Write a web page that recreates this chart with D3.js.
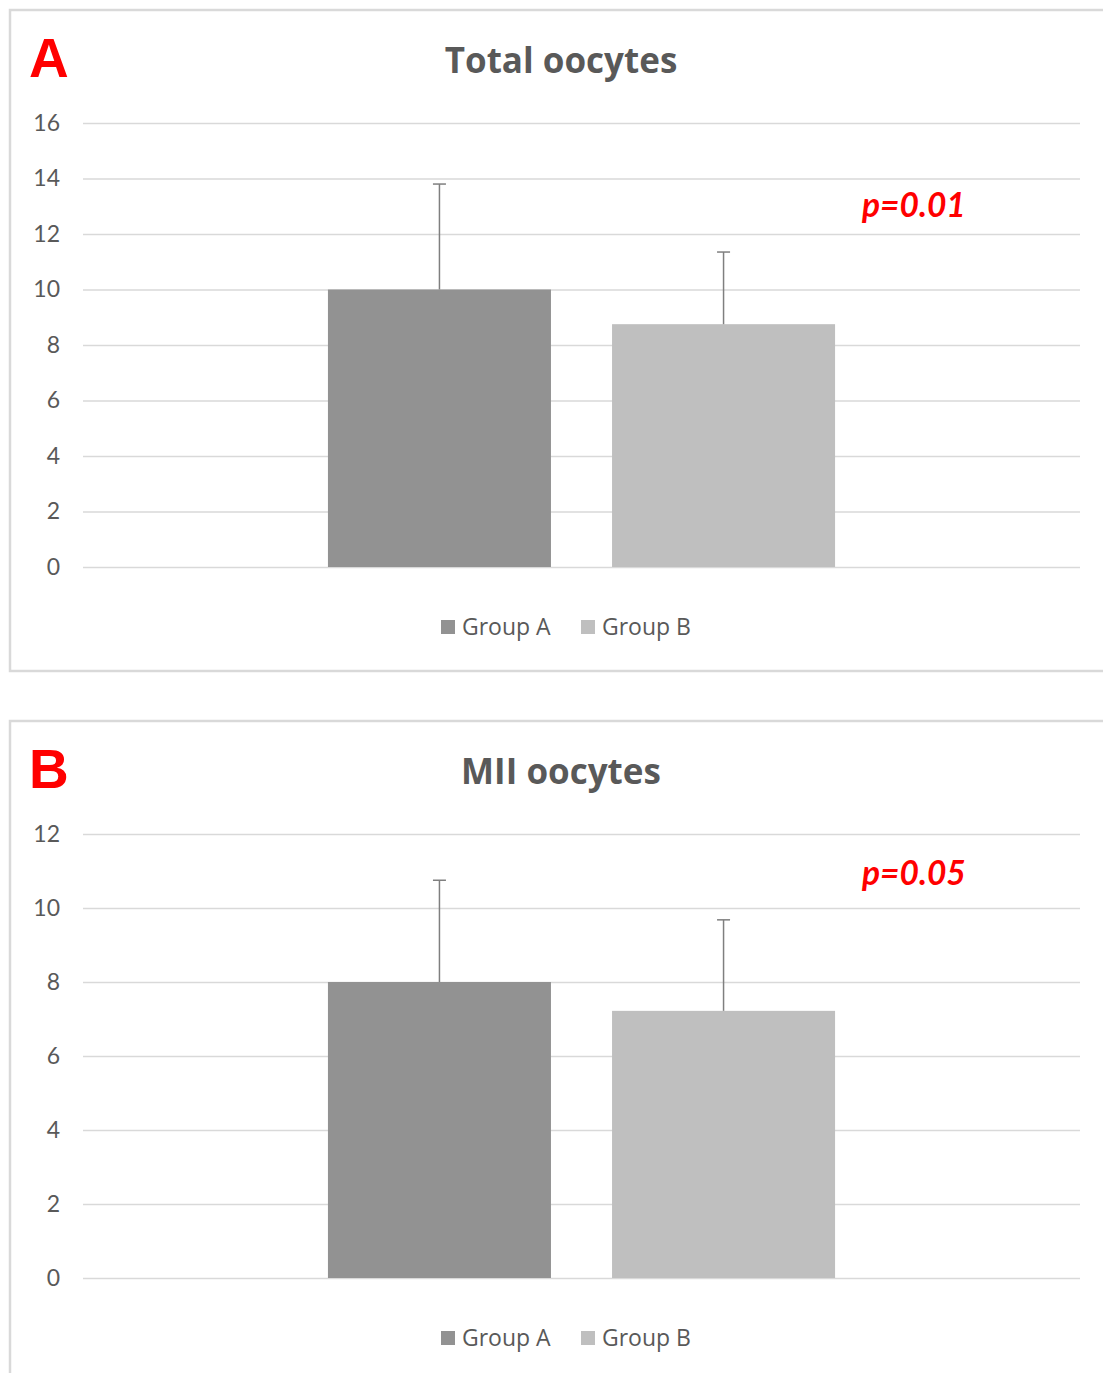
<!DOCTYPE html>
<html>
<head>
<meta charset="utf-8">
<script src="https://cdn.jsdelivr.net/npm/d3@7"></script>
<style>
  body { margin: 0; background: #fff; }
  text { font-family: "Open Sans", Lato, sans-serif; }
</style>
</head>
<body>
<div id="chart"></div>
<script>
// data
var categories = ["Oocytes"];
var groups = ["Group A", "Group B"];
var groupColours = ["#929292", "#bfbfbf"];

var totalMeans = [10.0, 8.75];
var totalErrors = [3.8, 2.6];
var totalTicks = [0, 2, 4, 6, 8, 10, 12, 14, 16];

var miiMeans = [8.0, 7.22];
var miiErrors = [2.75, 2.46];
var miiTicks = [0, 2, 4, 6, 8, 10, 12];

var panels = [
  {letter: "A", title: "Total oocytes", means: totalMeans, errors: totalErrors, ticks: totalTicks, pval: "p=0.01", top: 10, pY: 207},
  {letter: "B", title: "MII oocytes", means: miiMeans, errors: miiErrors, ticks: miiTicks, pval: "p=0.05", top: 721, pY: 164}
];

var svgWidth = 1103, svgHeight = 1373;
var svg = d3.select("#chart").append("svg")
  .attr("width", svgWidth).attr("height", svgHeight);

function drawPanel(p) {
  var g = svg.append("g").attr("transform", "translate(0," + p.top + ")");

  // outer frame (runs off the right / bottom edge like the original)
  g.append("rect")
    .attr("x", 10).attr("y", 0)
    .attr("width", 1110).attr("height", 661)
    .attr("fill", "none")
    .attr("stroke", "#d9d9d9")
    .attr("stroke-width", 2.5);

  var plotLeft = 83, plotRight = 1080, plotTop = 113, plotBottom = 557;

  var y = d3.scaleLinear()
    .domain([0, d3.max(p.ticks)])
    .range([plotBottom, plotTop]);

  var x0 = d3.scaleBand().domain(categories)
    .range([plotLeft, plotRight])
    .paddingInner(0).paddingOuter(0.483);
  var x1 = d3.scaleBand().domain(groups)
    .range([0, x0.bandwidth()])
    .paddingInner(0.215);

  // gridlines + tick labels
  var yAxis = d3.axisLeft(y).tickValues(p.ticks)
    .tickSize(-(plotRight - plotLeft)).tickPadding(23);
  var ax = g.append("g")
    .attr("transform", "translate(" + plotLeft + ",0)")
    .call(yAxis);
  ax.select(".domain").remove();
  ax.selectAll(".tick line").attr("stroke", "#d9d9d9").attr("stroke-width", 1.3);
  ax.selectAll(".tick text")
    .attr("fill", "#595959")
    .style("font-size", "23px")
    .style("font-family", "Lato, sans-serif");

  // bars
  var rows = groups.map(function(gr, i) {
    return {group: gr, mean: p.means[i], err: p.errors[i], colour: groupColours[i]};
  });
  var cat = g.append("g").attr("transform", "translate(" + x0(categories[0]) + ",0)");
  cat.selectAll("rect.bar").data(rows).enter().append("rect")
    .attr("class", "bar")
    .attr("x", function(d) { return x1(d.group); })
    .attr("y", function(d) { return y(d.mean); })
    .attr("width", x1.bandwidth())
    .attr("height", function(d) { return y(0) - y(d.mean); })
    .attr("fill", function(d) { return d.colour; });

  // error bars (upper only)
  var capW = 13;
  cat.selectAll("line.err").data(rows).enter().append("line")
    .attr("class", "err")
    .attr("x1", function(d) { return x1(d.group) + x1.bandwidth() / 2; })
    .attr("x2", function(d) { return x1(d.group) + x1.bandwidth() / 2; })
    .attr("y1", function(d) { return y(d.mean); })
    .attr("y2", function(d) { return y(d.mean + d.err); })
    .attr("stroke", "#7f7f7f").attr("stroke-width", 1.5);
  cat.selectAll("line.cap").data(rows).enter().append("line")
    .attr("class", "cap")
    .attr("x1", function(d) { return x1(d.group) + x1.bandwidth() / 2 - capW / 2; })
    .attr("x2", function(d) { return x1(d.group) + x1.bandwidth() / 2 + capW / 2; })
    .attr("y1", function(d) { return y(d.mean + d.err); })
    .attr("y2", function(d) { return y(d.mean + d.err); })
    .attr("stroke", "#7f7f7f").attr("stroke-width", 1.5);

  // title
  g.append("text")
    .attr("x", 561).attr("y", 63)
    .attr("text-anchor", "middle")
    .attr("fill", "#595959")
    .attr("font-weight", 700)
    .style("font-size", "35px")
    .text(p.title);

  // panel letter
  g.append("text")
    .attr("x", 29).attr("y", 67)
    .attr("fill", "#ff0000")
    .attr("font-weight", 700)
    .style("font-family", "'Liberation Sans', Arial, sans-serif")
    .style("font-size", "55px")
    .text(p.letter);

  // p value
  g.append("text")
    .attr("x", 862).attr("y", p.pY)
    .attr("fill", "#ff0000")
    .attr("font-weight", 700)
    .attr("font-style", "italic")
    .style("font-family", "Lato, sans-serif")
    .style("font-size", "33.5px")
    .text(p.pval);

  // legend
  var legendX = [441, 581];
  var leg = g.selectAll("g.leg").data(rows).enter().append("g")
    .attr("class", "leg")
    .attr("transform", function(d, i) { return "translate(" + legendX[i] + ",617)"; });
  leg.append("rect")
    .attr("x", 0).attr("y", -7)
    .attr("width", 14).attr("height", 14)
    .attr("fill", function(d) { return d.colour; });
  leg.append("text")
    .attr("x", 21).attr("y", 0)
    .attr("dy", ".35em")
    .attr("fill", "#595959")
    .style("font-size", "23px")
    .text(function(d) { return d.group; });
}

panels.forEach(drawPanel);
</script>
</body>
</html>
